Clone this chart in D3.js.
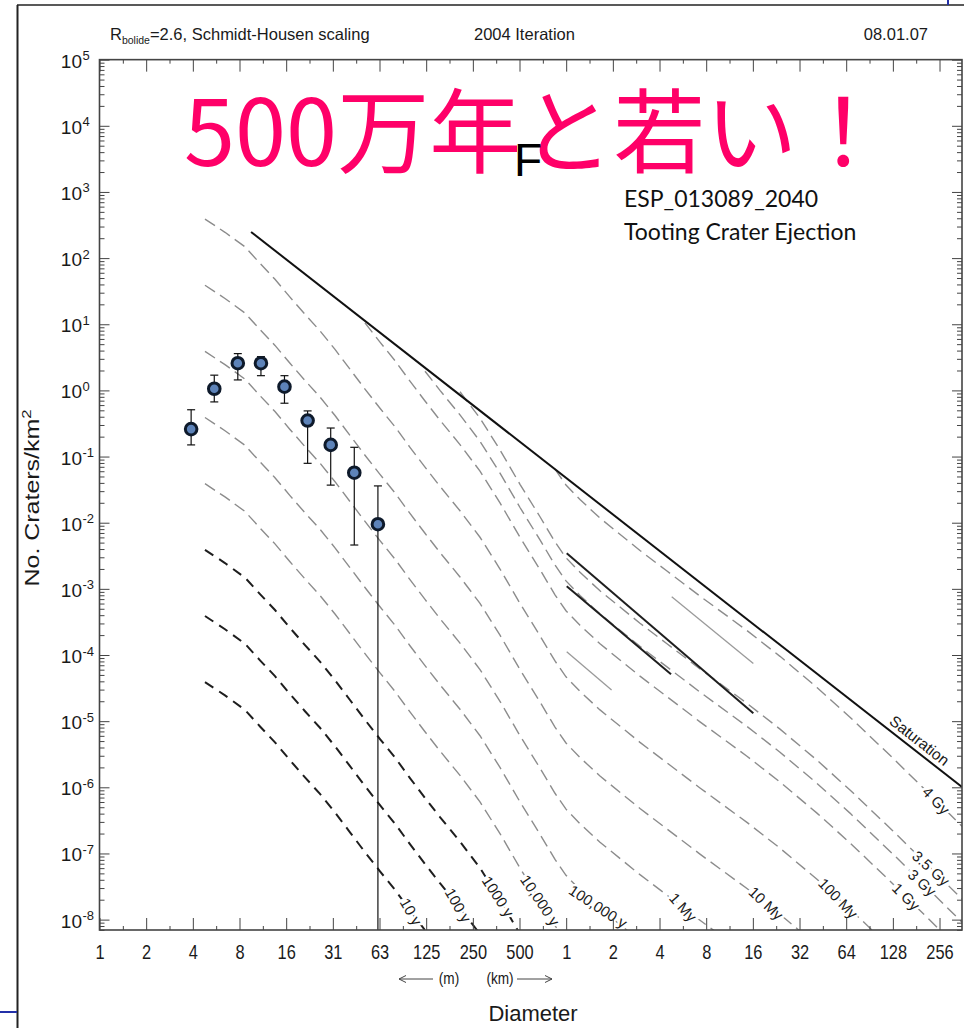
<!DOCTYPE html>
<html>
<head>
<meta charset="utf-8">
<script src="https://cdn.jsdelivr.net/npm/d3@7"></script>
<style>
  body { margin: 0; background: #fff; }
  svg text { font-family: "Liberation Sans", Arial, sans-serif; fill: #1a1a1a; }
</style>
</head>
<body>
<svg id="chart" width="964" height="1028"></svg>
<script>
// crater counts, Tooting crater ejecta (diameter in m, craters per km^2)
var binD  = [3.9, 5.5, 7.8, 11, 15.6, 22, 31, 44, 62.5];
var binN  = [0.26, 1.06, 2.58, 2.58, 1.14, 0.35, 0.150, 0.057, 0.0095];
var binHi = [0.51, 1.70, 3.6, 3.24, 1.67, 0.49, 0.27, 0.138, 0.036];
var binLo = [0.150, 0.67, 1.44, 1.67, 0.64, 0.079, 0.037, 0.0046, null];

// x axis tick labels (m then km)
var xTickLabels = ["1","2","4","8","16","31","63","125","250","500","1","2","4","8","16","32","64","128","256"];

// isochron diameters (m), shared by all the curves
var isoD = [4.79, 6.45, 8.68, 10.85, 13.55, 16.93, 21.16, 26.44, 33.04, 41.28, 51.57, 64.45, 80.55,
            100.6, 125.8, 157.1, 211.5, 284.7, 383.2, 515.6, 694.1, 867.2, 1021, 1257, 1692, 3064,
            4576, 7470, 15010, 24520, 42460, 69330, 131300, 227500, 366000];

// log10 density per isochron, first value sits on isoD[isoStart[i]]
var isoNames = ["10 y", "100 y", "1000 y", "10,000 y", "100,000 y", "1 My", "10 My", "100 My", "1 Gy", "3 Gy", "3.5 Gy", "4 Gy"];
var isoStart = [0, 0, 0, 0, 0, 0, 0, 0, 10, 14, 16, 21];
var iso10y   = [-4.41,-4.61,-4.83,-5.08,-5.32,-5.59,-5.85,-6.10,-6.38,-6.68,-6.98,-7.27,-7.55,-7.86,-8.16,-8.45];
var iso100y  = [-3.41,-3.61,-3.83,-4.08,-4.32,-4.59,-4.85,-5.10,-5.38,-5.68,-5.98,-6.27,-6.55,-6.86,-7.16,-7.45,-7.82,-8.22];
var iso1000y = [-2.41,-2.61,-2.83,-3.08,-3.32,-3.59,-3.85,-4.10,-4.38,-4.68,-4.98,-5.27,-5.55,-5.86,-6.16,-6.45,-6.82,-7.22,-7.70,-8.22];
var iso1e4y  = [-1.41,-1.61,-1.83,-2.08,-2.32,-2.59,-2.85,-3.10,-3.38,-3.68,-3.98,-4.27,-4.55,-4.86,-5.16,-5.45,-5.82,-6.22,-6.70,-7.22,-7.71,-8.09,-8.33];
var iso1e5y  = [-0.41,-0.61,-0.83,-1.08,-1.32,-1.59,-1.85,-2.10,-2.38,-2.68,-2.98,-3.27,-3.55,-3.86,-4.16,-4.45,-4.82,-5.22,-5.70,-6.22,-6.71,-7.09,-7.33,-7.55,-7.83,-8.32];
var iso1My   = [0.59,0.39,0.17,-0.08,-0.32,-0.59,-0.85,-1.10,-1.38,-1.68,-1.98,-2.27,-2.55,-2.86,-3.16,-3.45,-3.82,-4.22,-4.70,-5.22,-5.71,-6.09,-6.33,-6.55,-6.83,-7.32,-7.63,-8.01,-8.53];
var iso10My  = [1.59,1.39,1.17,0.92,0.68,0.41,0.15,-0.10,-0.38,-0.68,-0.98,-1.27,-1.55,-1.86,-2.16,-2.45,-2.82,-3.22,-3.70,-4.22,-4.71,-5.09,-5.33,-5.55,-5.83,-6.32,-6.63,-7.01,-7.53,-7.92,-8.39];
var iso100My = [2.59,2.39,2.17,1.92,1.68,1.41,1.15,0.90,0.62,0.32,0.02,-0.27,-0.55,-0.86,-1.16,-1.45,-1.82,-2.22,-2.70,-3.22,-3.71,-4.09,-4.33,-4.55,-4.83,-5.32,-5.63,-6.01,-6.53,-6.92,-7.39,-7.84,-8.46];
var iso1Gy   = [1.02,0.73,0.45,0.14,-0.16,-0.45,-0.82,-1.22,-1.70,-2.22,-2.71,-3.09,-3.33,-3.55,-3.83,-4.32,-4.63,-5.01,-5.53,-5.92,-6.39,-6.84,-7.46,-8.01,-8.49];
var iso3Gy   = [0.29,0.00,-0.37,-0.77,-1.25,-1.77,-2.26,-2.64,-2.88,-3.10,-3.38,-3.87,-4.18,-4.56,-5.08,-5.47,-5.94,-6.39,-7.01,-7.56,-8.04];
var iso35Gy  = [-0.02,-0.42,-0.90,-1.42,-1.91,-2.29,-2.53,-2.75,-3.03,-3.52,-3.83,-4.21,-4.73,-5.12,-5.59,-6.04,-6.66,-7.21,-7.69];
var iso4Gy   = [-1.19,-1.43,-1.65,-1.93,-2.42,-2.73,-3.11,-3.63,-4.02,-4.49,-4.94,-5.56,-6.11,-6.59];
var isoLog = [iso10y, iso100y, iso1000y, iso1e4y, iso1e5y, iso1My, iso10My, iso100My, iso1Gy, iso3Gy, iso35Gy, iso4Gy];

// saturation line
var satD   = [9.5, 366000];
var satLog = [2.395, -5.995];

// short extra segments in the km range (2 black, 2 grey)
var segD   = [[1032, 16500], [1032, 4860], [1032, 2010], [4910, 16500]];
var segLog = [[-2.46, -4.88], [-2.96, -4.29], [-3.95, -4.53], [-3.12, -4.13]];

// ---- drawing ----
var svg = d3.select("#chart");
var pL = 99.5, pR = 962, pT = 59.65, pB = 930;

var x = d3.scaleLog().base(2).domain([1, 366000]).range([pL, pR]);
var y = d3.scaleLog().domain([Math.pow(10, -8.157), 1e5]).range([pB, pT]);

// slide frame bits
svg.append("line").attr("x1", 17).attr("x2", 964).attr("y1", 5).attr("y2", 5).attr("stroke", "#222").attr("stroke-width", 1.6);
svg.append("line").attr("x1", 17.5).attr("x2", 17.5).attr("y1", 5).attr("y2", 1028).attr("stroke", "#222").attr("stroke-width", 2);
svg.append("line").attr("x1", 0).attr("x2", 17).attr("y1", 1012).attr("y2", 1012).attr("stroke", "#2330a8").attr("stroke-width", 2);
svg.append("line").attr("x1", 948).attr("x2", 948).attr("y1", 0).attr("y2", 5).attr("stroke", "#2330a8").attr("stroke-width", 2);

svg.append("clipPath").attr("id", "plotclip")
  .append("rect").attr("x", pL).attr("y", pT).attr("width", pR - pL).attr("height", pB - pT);

var plot = svg.append("g").attr("clip-path", "url(#plotclip)");

var line = d3.line()
  .x(function(d) { return x(d[0]); })
  .y(function(d) { return y(Math.pow(10, d[1])); });

// isochrons
var isoPts = isoLog.map(function(vals, i) {
  return vals.map(function(v, j) { return [isoD[isoStart[i] + j], v]; });
});

plot.selectAll("path.iso")
  .data(isoPts)
  .enter().append("path")
    .attr("class", "iso")
    .attr("d", line)
    .attr("fill", "none")
    .attr("stroke", function(d, i) { return i < 3 ? "#1e1e1e" : "#8c8c8c"; })
    .attr("stroke-width", function(d, i) { return i < 3 ? 2 : 1.4; })
    .attr("stroke-dasharray", function(d, i) { return i < 3 ? "10,7" : "12,6"; });

// extra segments
plot.selectAll("path.seg")
  .data(segD.map(function(ds, i) { return ds.map(function(dd, j) { return [dd, segLog[i][j]]; }); }))
  .enter().append("path")
    .attr("class", "seg")
    .attr("d", line)
    .attr("fill", "none")
    .attr("stroke", function(d, i) { return i < 2 ? "#1e1e1e" : "#9a9a9a"; })
    .attr("stroke-width", function(d, i) { return i < 2 ? 2 : 1.3; });

// saturation
var satPts = satD.map(function(dd, i) { return [dd, satLog[i]]; });
plot.append("path").attr("d", line(satPts)).attr("fill", "none").attr("stroke", "#111").attr("stroke-width", 2);

// labels along the curves: pixel x of label centre and text angle
var labelPx  = [411, 458, 498, 540, 598, 683, 766, 838, 906, 922, 931, 936];
var labelAng = [60, 60, 57, 56, 33, 48, 43, 46, 45, 42, 42, 46];

function onCurve(pts, px) {
  var p = pts.map(function(d) { return [x(d[0]), y(Math.pow(10, d[1]))]; });
  for (var i = 0; i < p.length - 1; i++) {
    if (px >= p[i][0] && px <= p[i + 1][0]) {
      var t = (px - p[i][0]) / (p[i + 1][0] - p[i][0]);
      var ang = Math.atan2(p[i + 1][1] - p[i][1], p[i + 1][0] - p[i][0]) * 180 / Math.PI;
      return [px, p[i][1] + t * (p[i + 1][1] - p[i][1]), ang];
    }
  }
  return [px, p[p.length - 1][1], 45];
}

isoPts.forEach(function(pts, i) {
  var pos = onCurve(pts, labelPx[i]);
  svg.append("text")
    .attr("transform", "translate(" + pos[0] + "," + pos[1] + ") rotate(" + labelAng[i] + ")")
    .attr("text-anchor", "middle")
    .attr("dy", "0.35em")
    .attr("font-size", 15)
    .attr("stroke", "#fff").attr("stroke-width", 5).attr("paint-order", "stroke")
    .text(isoNames[i]);
});

var satPos = onCurve(satPts, 913);
svg.append("text")
  .attr("transform", "translate(" + satPos[0] + "," + satPos[1] + ") rotate(" + satPos[2] + ")")
  .attr("text-anchor", "middle")
  .attr("y", -5)
  .attr("font-size", 15.5)
  .text("Saturation");

// error bars and points
var pts = binD.map(function(dd, i) { return { d: dd, n: binN[i], hi: binHi[i], lo: binLo[i] }; });
var eb = svg.append("g").attr("stroke", "#111").attr("stroke-width", 1.2);
pts.forEach(function(p) {
  var cx = x(p.d);
  var yLo = p.lo === null ? pB : y(p.lo);
  eb.append("line").attr("x1", cx).attr("x2", cx).attr("y1", y(p.hi)).attr("y2", yLo);
  eb.append("line").attr("x1", cx - 4).attr("x2", cx + 4).attr("y1", y(p.hi)).attr("y2", y(p.hi));
  if (p.lo !== null) eb.append("line").attr("x1", cx - 4).attr("x2", cx + 4).attr("y1", yLo).attr("y2", yLo);
});
svg.selectAll("circle.pt")
  .data(pts)
  .enter().append("circle")
    .attr("class", "pt")
    .attr("cx", function(d) { return x(d.d); })
    .attr("cy", function(d) { return y(d.n); })
    .attr("r", 5.8)
    .attr("fill", "#5d83b9")
    .attr("stroke", "#0e1a2b")
    .attr("stroke-width", 3);

// axes
var xMajor = d3.range(0, 19).map(function(k) { return Math.pow(2, k); });
var xMinor = d3.range(0, 18).map(function(k) { return Math.pow(2, k + 0.5); });
var yMajor = d3.range(-8, 6).map(function(k) { return Math.pow(10, k); });
var yMinor = [];
d3.range(-9, 5).forEach(function(k) {
  d3.range(2, 10).forEach(function(m) {
    var v = m * Math.pow(10, k);
    if (v > y.domain()[0] && v < 1e5) yMinor.push(v);
  });
});

function clean(g) { g.select(".domain").remove(); g.attr("color", "#444"); }

svg.append("g").attr("transform", "translate(0," + pB + ")")
  .call(d3.axisBottom(x).tickValues(xMajor).tickSizeInner(-12).tickSizeOuter(0).tickPadding(15)
    .tickFormat(function(d, i) { return xTickLabels[i]; }))
  .call(clean)
  .call(function(g) {
    g.selectAll("text").attr("font-size", 20).attr("font-family", "Liberation Sans, Arial, sans-serif")
      .attr("fill", "#1a1a1a").attr("transform", "scale(0.82,1)");
  });
svg.append("g").attr("transform", "translate(0," + pB + ")")
  .call(d3.axisBottom(x).tickValues(xMinor).tickSize(-4).tickFormat("")).call(clean);
svg.append("g").attr("transform", "translate(0," + pT + ")")
  .call(d3.axisTop(x).tickValues(xMajor).tickSize(-12).tickFormat("")).call(clean);
svg.append("g").attr("transform", "translate(0," + pT + ")")
  .call(d3.axisTop(x).tickValues(xMinor).tickSize(-4).tickFormat("")).call(clean);

svg.append("g").attr("transform", "translate(" + pL + ",0)")
  .call(d3.axisLeft(y).tickValues(yMajor).tickSize(-10).tickFormat("")).call(clean);
svg.append("g").attr("transform", "translate(" + pL + ",0)")
  .call(d3.axisLeft(y).tickValues(yMinor).tickSize(-5).tickFormat("")).call(clean);
svg.append("g").attr("transform", "translate(" + pR + ",0)")
  .call(d3.axisRight(y).tickValues(yMajor).tickSize(-10).tickFormat("")).call(clean);
svg.append("g").attr("transform", "translate(" + pR + ",0)")
  .call(d3.axisRight(y).tickValues(yMinor).tickSize(-5).tickFormat("")).call(clean);

svg.append("rect").attr("x", pL).attr("y", pT).attr("width", pR - pL).attr("height", pB - pT)
  .attr("fill", "none").attr("stroke", "#444").attr("stroke-width", 1.6);

// y tick labels 10^k
yMajor.forEach(function(v) {
  var k = Math.round(Math.log10(v));
  svg.append("text").attr("x", 82).attr("y", y(v) + 8).attr("text-anchor", "end").attr("font-size", 19).text("10");
  svg.append("text").attr("x", 82.5).attr("y", y(v) + 0.5).attr("font-size", 13).text(k < 0 ? "-" + (-k) : String(k));
});

// axis titles
svg.append("text")
  .attr("transform", "translate(38.5,498) rotate(-90) scale(1.28,1)")
  .attr("text-anchor", "middle")
  .attr("font-size", 19.5)
  .call(function(t) {
    t.append("tspan").text("No. Craters/km");
    t.append("tspan").attr("dy", -8).attr("font-size", 13).text("2");
  });

svg.append("text").attr("x", 533).attr("y", 1021).attr("text-anchor", "middle").attr("font-size", 22).text("Diameter");

// (m) (km) arrows
var arrows = svg.append("g").attr("stroke", "#444").attr("stroke-width", 1).attr("fill", "none");
arrows.append("line").attr("x1", 399).attr("x2", 433).attr("y1", 979).attr("y2", 979);
arrows.append("path").attr("d", "M406,975.5 L399,979 L406,982.5");
arrows.append("line").attr("x1", 517).attr("x2", 552).attr("y1", 979).attr("y2", 979);
arrows.append("path").attr("d", "M545,975.5 L552,979 L545,982.5");
svg.append("text").attr("x", 449).attr("y", 984).attr("text-anchor", "middle").attr("font-size", 16)
  .attr("transform", "translate(449,0) scale(0.85,1) translate(-449,0)").text("(m)");
svg.append("text").attr("x", 500).attr("y", 984).attr("text-anchor", "middle").attr("font-size", 16)
  .attr("transform", "translate(500,0) scale(0.85,1) translate(-500,0)").text("(km)");

// header
svg.append("text").attr("x", 110).attr("y", 40).attr("font-size", 16.5)
  .call(function(t) {
    t.append("tspan").text("R");
    t.append("tspan").attr("dy", 4).attr("font-size", 10.5).text("bolide");
    t.append("tspan").attr("dy", -4).text("=2.6, Schmidt-Housen scaling");
  });
svg.append("text").attr("x", 474).attr("y", 40).attr("font-size", 16.5).text("2004 Iteration");
svg.append("text").attr("x", 928).attr("y", 40).attr("text-anchor", "end").attr("font-size", 16.5).text("08.01.07");

// annotations
svg.append("text").attr("x", 184).attr("y", 166)
  .style("font-family", "'Noto Sans CJK JP', 'Noto Sans', sans-serif")
  .style("fill", "#ff0068")
  .attr("font-size", 92)
  .text("500万年と若い！");
svg.append("text").attr("x", 514).attr("y", 176).attr("font-size", 46).style("fill", "#000").text("F");
svg.append("text").attr("x", 624).attr("y", 207).attr("font-size", 23)
  .style("font-family", "Lato, 'Open Sans', sans-serif").style("fill", "#111").text("ESP_013089_2040");
svg.append("text").attr("x", 624).attr("y", 240).attr("font-size", 23)
  .style("font-family", "Lato, 'Open Sans', sans-serif").style("fill", "#111").text("Tooting Crater Ejection");
</script>
</body>
</html>
